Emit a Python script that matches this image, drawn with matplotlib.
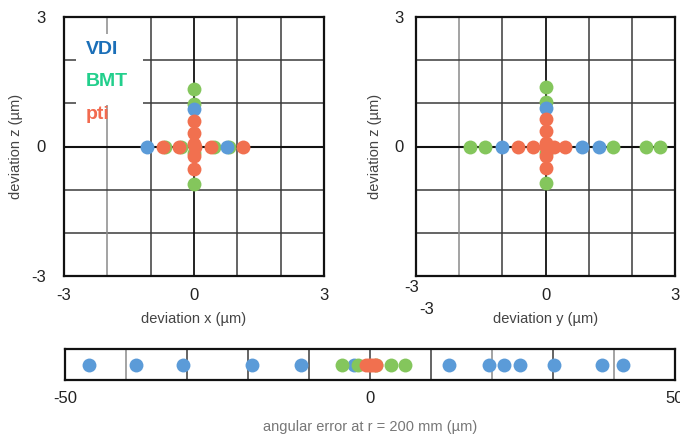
import matplotlib
matplotlib.use("Agg")
import matplotlib.pyplot as plt
from matplotlib.transforms import ScaledTranslation
from matplotlib.patches import Rectangle

plt.rcParams['font.family'] = ['Liberation Sans', 'DejaVu Sans']

# ---- data: deviation x / z ----
xz_vdi_x = [-1.09, 0.76, 0.0]
xz_vdi_z = [0.0, 0.0, 0.88]
xz_bmt_x = [-0.68, -0.30, 0.45, 0.80, 0.0, 0.0, 0.0, 0.0]
xz_bmt_z = [0.0, 0.0, 0.0, 0.0, 1.34, 0.99, -0.15, -0.88]
xz_pti_x = [-0.72, -0.35, 0.02, 0.39, 1.13, 0.0, 0.0, 0.0, 0.0, 0.0]
xz_pti_z = [0.0, 0.0, 0.0, 0.0, 0.0, 0.60, 0.32, 0.05, -0.23, -0.53]

# ---- data: deviation y / z ----
yz_vdi_y = [-1.00, 0.85, 1.23, 0.0]
yz_vdi_z = [0.0, 0.0, 0.0, 0.90]
yz_bmt_y = [-1.76, -1.40, 1.57, 2.32, 2.66, 0.0, 0.0, 0.0, 0.0]
yz_bmt_z = [0.0, 0.0, 0.0, 0.0, 0.0, 1.37, 1.02, -0.15, -0.85]
yz_pti_y = [-0.63, -0.28, 0.0, 0.20, 0.46, 0.0, 0.0, 0.0, 0.0, 0.0]
yz_pti_z = [0.0, 0.0, 0.0, 0.0, 0.0, 0.63, 0.35, 0.08, -0.21, -0.50]

# ---- data: angular error at r = 200 mm ----
ang_vdi = [-46.1, -38.4, -30.7, -19.3, -11.3, -2.6, 13.0, 19.5, 22.0, 24.6, 30.2, 38.0, 41.5]
ang_bmt = [-4.6, -2.0, 1.0, 3.4, 5.7]
ang_pti = [-0.6, -0.2, 0.2, 0.6, 1.0]

series_names = ['VDI', 'BMT', 'pti']
text_colors = ['#1b6fb8', '#22cf8c', '#f26a4f']
c_vdi, c_bmt, c_pti = '#5b9bd8', '#84c65c', '#f1704f'

W, H = 680, 434
fig = plt.figure(figsize=(W / 100, H / 100), dpi=100)

def frac(l, t, r, b):
    return [l / W, 1 - b / H, (r - l) / W, (b - t) / H]

ax1 = fig.add_axes(frac(64, 17, 324, 276))
ax2 = fig.add_axes(frac(416, 17, 675, 276))
ax3 = fig.add_axes(frac(65, 349, 675, 380))

S = 100
grid_dark = '#3a3a3a'
grid_light = '#8a8a8a'

def setup_square(ax, ypad):
    ax.set_xlim(-3, 3)
    ax.set_ylim(-3, 3)
    ticks = [-3, -2, -1, 0, 1, 2, 3]
    ax.set_xticks(ticks)
    ax.set_yticks(ticks)
    for v in [-2, -1, 1, 2]:
        ax.axhline(v, color=grid_dark, lw=1.1, zorder=1)
        ax.axvline(v, color=grid_light if v == -2 else grid_dark, lw=1.1, zorder=1)
    ax.axhline(0, color='#111111', lw=1.5, zorder=1)
    ax.axvline(0, color='#111111', lw=1.3, zorder=1)
    for s in ax.spines.values():
        s.set_color('#111111')
        s.set_linewidth(1.6)
    ax.tick_params(axis='x', length=0, labelsize=12, colors='#222222', pad=9)
    ax.tick_params(axis='y', length=0, labelsize=12, colors='#222222', pad=ypad)

setup_square(ax1, 13)
setup_square(ax2, 9)

ax1.set_xticklabels(['-3', '', '', '0', '', '', '3'])
ax1.set_yticklabels(['-3', '', '', '0', '', '', '3'])
ax1.set_xlabel('deviation x (µm)', fontsize=10.5, color='#444444', labelpad=6)
ax1.set_ylabel('deviation z (µm)', fontsize=10.5, color='#444444', labelpad=6)

ax2.set_xticklabels(['', '', '', '0', '', '', '3'])
ax2.set_yticklabels(['', '', '', '0', '', '', '3'])
ax2.set_xlabel('deviation y (µm)', fontsize=10.5, color='#444444', labelpad=6)
ax2.set_ylabel('deviation z (µm)', fontsize=10.5, color='#444444', labelpad=9)
ax2.text(-3, -3, '-3', fontsize=12, color='#222222', ha='center', va='center',
         transform=ax2.transData + ScaledTranslation(-4 / 100, -12 / 100, fig.dpi_scale_trans),
         clip_on=False)
ax2.text(-3, -3, '-3', fontsize=12, color='#222222', ha='center', va='center',
         transform=ax2.transData + ScaledTranslation(11 / 100, -34 / 100, fig.dpi_scale_trans),
         clip_on=False)

# scatter top-left
ax1.scatter(xz_bmt_x, xz_bmt_z, s=S, color=c_bmt, linewidths=0, zorder=3)
ax1.scatter(xz_vdi_x, xz_vdi_z, s=S, color=c_vdi, linewidths=0, zorder=4)
ax1.scatter(xz_pti_x, xz_pti_z, s=S, color=c_pti, linewidths=0, zorder=5)

# scatter top-right
ax2.scatter(yz_bmt_y, yz_bmt_z, s=S, color=c_bmt, linewidths=0, zorder=3)
ax2.scatter(yz_vdi_y, yz_vdi_z, s=S, color=c_vdi, linewidths=0, zorder=4)
ax2.scatter(yz_pti_y, yz_pti_z, s=S, color=c_pti, linewidths=0, zorder=5)

# legend texts with white box
ax1.add_patch(Rectangle((-2.72, 0.95), 1.55, 1.65, facecolor='white', edgecolor='none', zorder=2))
for i, (name, col) in enumerate(zip(series_names, text_colors)):
    ax1.text(-2.5, 2.25 - i * 0.75, name, color=col, fontsize=14, fontweight='bold',
             ha='left', va='center', zorder=6)

# bottom strip
ax3.set_xlim(-50, 50)
ax3.set_ylim(-1, 1)
ax3.set_xticks([-50, 0, 50])
ax3.set_xticklabels(['-50', '0', '50'])
ax3.set_yticks([])
for v in range(-40, 50, 10):
    ax3.axvline(v, color=grid_light if v in (-40, 20, 40) else grid_dark, lw=1.1, zorder=1)
for s in ax3.spines.values():
    s.set_color('#111111')
    s.set_linewidth(1.6)
ax3.tick_params(length=0, labelsize=12, colors='#222222', pad=8)
ax3.set_xlabel('angular error at r = 200 mm (µm)', fontsize=10.5, color='#777777', labelpad=10)
ax3.scatter(ang_vdi, [0] * len(ang_vdi), s=S, color=c_vdi, linewidths=0, zorder=3, clip_on=False)
ax3.scatter(ang_bmt, [0] * len(ang_bmt), s=S, color=c_bmt, linewidths=0, zorder=4, clip_on=False)
ax3.scatter(ang_pti, [0] * len(ang_pti), s=S, color=c_pti, linewidths=0, zorder=5, clip_on=False)

fig.savefig('out.png', dpi=100)
